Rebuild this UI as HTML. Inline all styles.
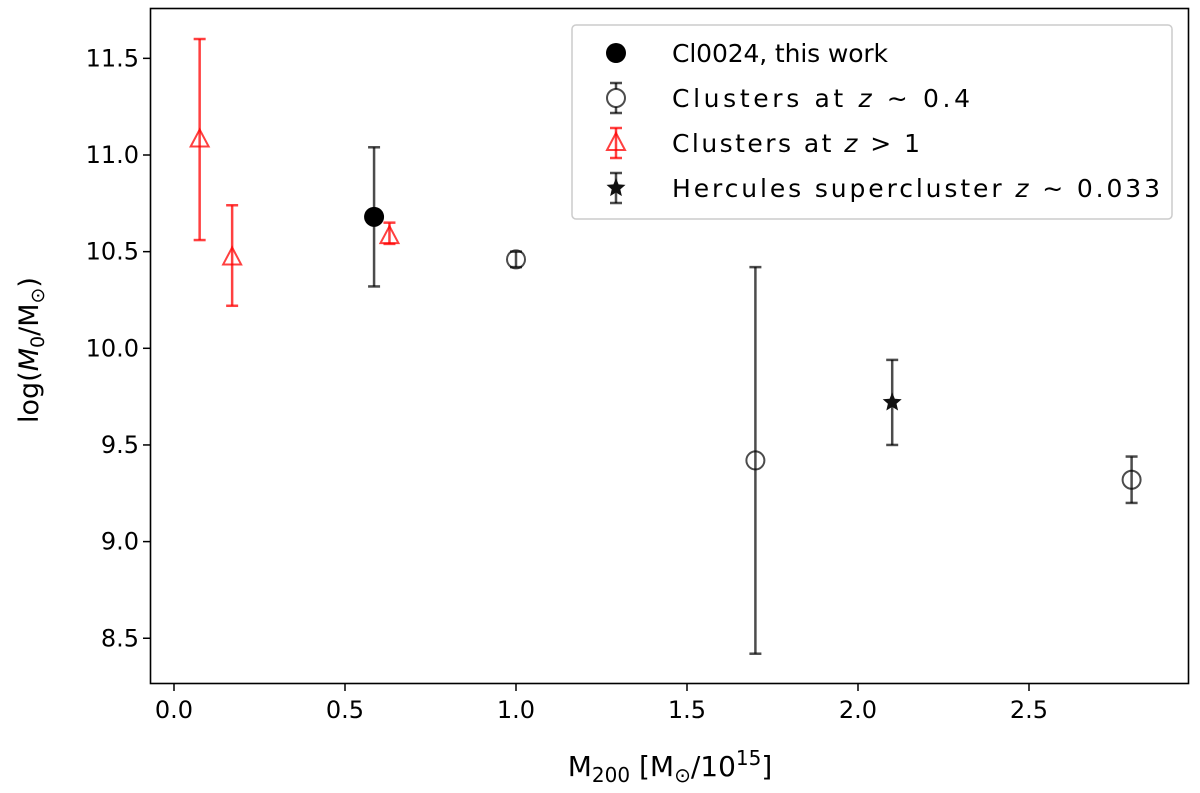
<!DOCTYPE html>
<html><head><meta charset="utf-8"><style>
body{margin:0;background:#fff;}
svg{display:block;font-family:"DejaVu Sans","Liberation Sans",sans-serif;}
</style></head><body>
<svg id="chart" width="1200" height="793" xmlns="http://www.w3.org/2000/svg">
<rect x="150.5" y="8.5" width="1038" height="675" fill="none" stroke="#000" stroke-width="1.6"/>
<g id="xticks"></g>
<g id="yticks"></g>
<g id="marks"></g>
<text x="670" y="776" text-anchor="middle" font-size="28">M<tspan font-size="20" dy="6">200</tspan><tspan dy="-6"> [M</tspan><tspan font-size="20" dy="6">⊙</tspan><tspan dy="-6">/10</tspan><tspan font-size="20" dy="-11">15</tspan><tspan dy="11">]</tspan></text>
<text transform="translate(38,350) rotate(-90)" text-anchor="middle" font-size="27">log(<tspan font-style="italic">M</tspan><tspan font-size="19" dy="6">0</tspan><tspan dy="-6">/M</tspan><tspan font-size="19" dy="6">⊙</tspan><tspan dy="-6">)</tspan></text>
<g>
<rect x="572" y="25" width="600" height="194" rx="4" fill="#fff" stroke="#ccc" stroke-width="1.5"/>
<g id="legend"></g>
</g>
</svg>
<script>
const xTicks=[0.0,0.5,1.0,1.5,2.0,2.5];
const yTicks=[8.5,9.0,9.5,10.0,10.5,11.0,11.5];
const clX=[0.585], clY=[10.68], clLo=[10.32], clHi=[11.04];
const z04X=[1.0,1.7,2.8], z04Y=[10.46,9.42,9.32], z04Lo=[10.42,8.42,9.20], z04Hi=[10.50,10.42,9.44];
const z1X=[0.075,0.17,0.63], z1Y=[11.08,10.47,10.58], z1Lo=[10.56,10.22,10.54], z1Hi=[11.60,10.74,10.65];
const herX=[2.1], herY=[9.72], herLo=[9.50], herHi=[9.94];

const sx=v=>174+v*342;
const sy=v=>155-(v-11)*193.3;
const NS="http://www.w3.org/2000/svg";
function mk(tag,attrs,parent){const e=document.createElementNS(NS,tag);for(const k in attrs)e.setAttribute(k,attrs[k]);parent.appendChild(e);return e;}
const xg=document.getElementById('xticks'),yg=document.getElementById('yticks'),mg=document.getElementById('marks');
xTicks.forEach(t=>{
  const l=mk('line',{x1:sx(t),x2:sx(t),y1:684,y2:691,stroke:'#000','stroke-width':1.5},xg);
  
  
  const tx=mk('text',{x:sx(t),y:718,'text-anchor':'middle','font-size':24},xg);
  tx.textContent=t.toFixed(1);
  
  
});
yTicks.forEach(t=>{
  const l=mk('line',{x1:143,x2:150,y1:sy(t),y2:sy(t),stroke:'#000','stroke-width':1.5},yg);
  
  
  const tx=mk('text',{x:139,y:sy(t)+8,'text-anchor':'end','font-size':24},yg);
  tx.textContent=t.toFixed(1);
  
  
});
function errbar(g,x,lo,hi,col){
  mk('line',{x1:x,x2:x,y1:lo,y2:hi,stroke:col,'stroke-width':2.5},g);
  mk('line',{x1:x-6,x2:x+6,y1:lo,y2:lo,stroke:col,'stroke-width':2.5},g);
  mk('line',{x1:x-6,x2:x+6,y1:hi,y2:hi,stroke:col,'stroke-width':2.5},g);
}
function tri(g,x,y,col,r){mk('polygon',{points:`${x},${y-r} ${x-r*0.9},${y+r*0.7} ${x+r*0.9},${y+r*0.7}`,fill:'none',stroke:col,'stroke-width':2},g);}
function star(g,x,y,r,col){let p=[];for(let i=0;i<10;i++){const a=-Math.PI/2+i*Math.PI/5,rr=i%2?r*0.45:r;p.push((x+rr*Math.cos(a)).toFixed(1)+','+(y+rr*Math.sin(a)).toFixed(1));}mk('polygon',{points:p.join(' '),fill:col},g);}
const grey='rgba(0,0,0,0.7)',red='rgba(255,0,0,0.75)';
z1X.forEach((v,i)=>{
  const g=mk('g',{},mg);
  
  
  errbar(g,sx(v),sy(z1Lo[i]),sy(z1Hi[i]),red);tri(g,sx(v),sy(z1Y[i]),red,10);
});
z04X.forEach((v,i)=>{
  const g=mk('g',{},mg);
  
  
  errbar(g,sx(v),sy(z04Lo[i]),sy(z04Hi[i]),grey);
  mk('circle',{cx:sx(v),cy:sy(z04Y[i]),r:9,fill:'none',stroke:grey,'stroke-width':2},g);
});
herX.forEach((v,i)=>{
  const g=mk('g',{},mg);
  
  
  errbar(g,sx(v),sy(herLo[i]),sy(herHi[i]),grey);star(g,sx(v),sy(herY[i]),10,'#111');
});
clX.forEach((v,i)=>{
  const g=mk('g',{},mg);
  
  
  errbar(g,sx(v),sy(clLo[i]),sy(clHi[i]),grey);
  mk('circle',{cx:sx(v),cy:sy(clY[i]),r:10,fill:'#000'},g);
});
// legend
const lg=document.getElementById('legend');
const labels=[['Cl0024, this work'],['Clusters at ','z',' ∼ 0.4'],['Clusters at ','z',' > 1'],['Hercules supercluster ','z',' ∼ 0.033']];
const lens=[216,298,248,488];
labels.forEach((lab,i)=>{
  const y=53+i*45, g=mk('g',{},lg);
  
  
  const x=616;
  if(i==0) mk('circle',{cx:x,cy:y,r:10,fill:'#000'},g);
  if(i==1){errbar(g,x,y-15,y+15,grey);mk('circle',{cx:x,cy:y,r:9,fill:'#fff',stroke:grey,'stroke-width':2},g);}
  if(i==2){errbar(g,x,y-15,y+15,red);tri(g,x,y,red,10);}
  if(i==3){errbar(g,x,y-15,y+15,grey);star(g,x,y,10,'#111');}
  const t=mk('text',{x:672,y:y+9,'font-size':25,textLength:lens[i],lengthAdjust:'spacing'},g);
  lab.forEach((s,k)=>{const ts=mk('tspan',k==1?{'font-style':'italic'}:{},t);ts.textContent=s;});
});
</script>
</body></html>
